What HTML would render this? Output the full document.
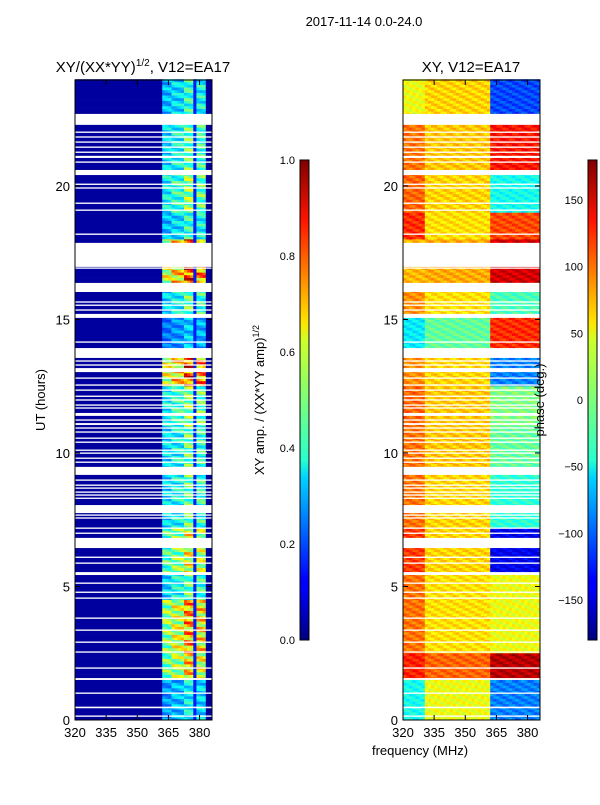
<!DOCTYPE html>
<html><head><meta charset="utf-8">
<style>
body{margin:0;background:#fff;font-family:"Liberation Sans",sans-serif;}
svg text{font-family:"Liberation Sans","DejaVu Sans",sans-serif;}
</style></head>
<body>
<svg id="fig" width="600" height="800" viewBox="0 0 600 800" xmlns="http://www.w3.org/2000/svg">
<defs>
<linearGradient id="jet" x1="0" y1="1" x2="0" y2="0">
<stop offset="0" stop-color="#00007f"/><stop offset="0.11" stop-color="#0000ff"/>
<stop offset="0.125" stop-color="#0000ff"/><stop offset="0.34" stop-color="#00d4ff"/>
<stop offset="0.375" stop-color="#29ffce"/><stop offset="0.5" stop-color="#7dff7a"/>
<stop offset="0.625" stop-color="#ceff29"/><stop offset="0.66" stop-color="#ffe600"/>
<stop offset="0.875" stop-color="#ff1300"/><stop offset="1" stop-color="#7f0000"/>
</linearGradient>
</defs>
<text x="364" y="26" font-size="13" text-anchor="middle">2017-11-14 0.0-24.0</text>
<text x="143" y="72" font-size="15" text-anchor="middle">XY/(XX*YY)<tspan font-size="10" dy="-6">1/2</tspan><tspan dy="6">, V12=EA17</tspan></text>
<text x="471" y="72" font-size="15" text-anchor="middle">XY, V12=EA17</text>
<g id="ampPlot"></g>
<g id="phPlot"></g>
<g id="axes"></g>
<rect x="300" y="160" width="9" height="480" fill="url(#jet)" stroke="#000" stroke-width="1"/>
<rect x="588" y="160" width="9" height="480" fill="url(#jet)" stroke="#000" stroke-width="1"/>
<text transform="translate(45,400) rotate(-90)" font-size="13" text-anchor="middle">UT (hours)</text>
<text transform="translate(264,400) rotate(-90)" font-size="13" text-anchor="middle">XY amp. / (XX*YY amp)<tspan font-size="9" dy="-5">1/2</tspan></text>
<text transform="translate(544,400) rotate(-90)" font-size="13" text-anchor="middle">phase (deg.)</text>
<text x="420" y="755" font-size="13" text-anchor="middle">frequency (MHz)</text>
</svg>
<script>
// data gaps (hours, no data)
const gaps=[[22.29,22.70],[21.99,22.04],[21.81,21.86],[21.62,21.67],[21.43,21.48],[21.24,21.29],[21.05,21.13],[20.87,20.92],[20.41,20.60],[20.04,20.09],[19.90,19.95],[19.33,19.38],[19.07,19.12],[18.17,18.22],[16.97,17.87],[16.90,16.95],[16.03,16.37],[15.63,15.68],[15.51,15.56],[15.33,15.38],[15.06,15.21],[14.13,14.18],[13.56,13.93],[13.42,13.47],[13.27,13.32],[13.03,13.18],[12.78,12.83],[12.52,12.57],[12.33,12.38],[12.10,12.15],[11.96,12.01],[11.77,11.82],[11.66,11.71],[11.39,11.50],[11.21,11.26],[11.05,11.12],[10.91,10.96],[10.76,10.81],[10.53,10.58],[10.38,10.43],[10.08,10.13],[9.97,10.02],[9.78,9.83],[9.63,9.68],[9.18,9.48],[8.96,9.01],[8.77,8.82],[8.66,8.71],[8.51,8.56],[8.40,8.45],[8.28,8.33],[7.75,8.05],[7.65,7.70],[7.54,7.59],[7.16,7.21],[6.97,7.02],[6.44,6.82],[6.07,6.12],[5.85,5.90],[5.43,5.54],[5.10,5.15],[4.76,4.81],[4.54,4.59],[3.79,3.84],[3.34,3.39],[2.89,2.94],[2.52,2.57],[1.92,1.97],[1.50,1.57],[0.98,1.03],[0.44,0.50],[0.12,0.17]];
// time segments: start, end hours
const segStart=[22.7,20.6,19.0,18.0,16.37,15.1,13.9,12.5,11.0,9.5,7.2,5.5,4.5,2.5,1.5,0];
const segEnd  =[24,22.7,20.6,19.0,18.0,16.37,15.1,13.9,12.5,11.0,9.5,7.2,5.5,4.5,2.5,1.5];
// amplitude level in 362-383 MHz band
const ampLevel=[0.45,0.5,0.55,0.45,0.85,0.5,0.35,0.85,0.55,0.5,0.5,0.65,0.5,0.75,0.7,0.4];
// phases (deg) for 320-330, 330-362, 362-386 MHz
const phLow=[40,95,100,120,70,85,-50,85,100,95,95,115,95,95,125,-40];
const phMid=[60,65,60,55,75,55,-10,60,65,65,60,60,55,55,100,40];
const phHigh=[-110,130,-40,110,150,-20,120,-90,0,-10,-30,-140,40,40,160,-90];
// sub-band edges (MHz) and gains
const bandLo=[362,366.8,372.5,378.3];
const bandHi=[366,371.8,377.6,382.8];
const bandGain=[0.8,0.9,1.1,1.0];

const NS='http://www.w3.org/2000/svg';
const xmin=320,xmax=386;
const y=(h)=>720-h*26.7;
function jet(v){v=Math.max(0,Math.min(1,v));
 const f=(x)=>Math.max(0,Math.min(1,1.5-Math.abs(4*v-x)));
 const r=f(3),g=f(2),b=f(1);
 return `rgb(${Math.round(r*255)},${Math.round(g*255)},${Math.round(b*255)})`;}
function mk(tag,attrs,parent){const e=document.createElementNS(NS,tag);for(const k in attrs)e.setAttribute(k,attrs[k]);parent.appendChild(e);return e;}
function draw(gid,x0,valFn){
 const g=document.getElementById(gid);
 const xs=(f)=>x0+(f-xmin)*(137/(xmax-xmin));
 const step=0.1;
 for(let i=0;i<segStart.length;i++){
  for(let h=segStart[i];h<segEnd[i]-1e-6;h+=step){
   const h2=Math.min(h+step,segEnd[i]);
   const k=Math.round(h*10);
   for(let f=xmin;f<xmax;f+=1.5){
    const r=mk('rect',{x:xs(f).toFixed(1),y:y(h2).toFixed(1),width:(137/(xmax-xmin)*1.5+0.4).toFixed(1),height:(y(h)-y(h2)+0.3).toFixed(1),fill:valFn(i,f+0.75,k)},g);
    
    
   }
  }
 }
 for(const gp of gaps){
  const r=mk('rect',{x:x0,y:y(gp[1]),width:137,height:y(gp[0])-y(gp[1]),fill:'#fff'},g);
  
  
 }
}
draw('ampPlot',75,(i,f,k)=>{
 let v=0.03;
 for(let b=0;b<4;b++) if(f>=bandLo[b]&&f<=bandHi[b]){
  v=ampLevel[i]*bandGain[b]*(0.85+0.2*Math.sin(k*1.7+b*2.1+f*0.3));}
 else if(f>bandHi[b]&&b<3&&f<bandLo[b+1]) v=0.15;
 return jet(v);});
draw('phPlot',403,(i,f,k)=>{
 let p=f<330?phLow[i]:(f<362?phMid[i]:phHigh[i]);
 p+=15*Math.sin(k*2.3+f*0.9);
 return jet((p+180)/360);});

const ax=document.getElementById('axes');
function axes(x0,name){
 const fr=mk('rect',{x:x0,y:80,width:137,height:640,fill:'none',stroke:'#000','stroke-width':1},ax);
 
 
 const xt=[320,335,350,365,380];
 for(const t of xt){
  const px=x0+(t-xmin)*(137/(xmax-xmin));
  mk('line',{x1:px,x2:px,y1:720,y2:715,stroke:'#000'},ax);
  mk('line',{x1:px,x2:px,y1:80,y2:85,stroke:'#000'},ax);
  const tx=mk('text',{x:px,y:737,'font-size':13,'text-anchor':'middle'},ax);tx.textContent=t;
  
  
 }
 for(const t of [0,5,10,15,20]){
  const py=y(t);
  mk('line',{x1:x0,x2:x0+5,y1:py,y2:py,stroke:'#000'},ax);
  mk('line',{x1:x0+132,x2:x0+137,y1:py,y2:py,stroke:'#000'},ax);
  const tx=mk('text',{x:x0-5,y:py+5,'font-size':13,'text-anchor':'end'},ax);tx.textContent=t;
  
  
 }
}
axes(75,'amp');axes(403,'phase');
function cbar(x0,ticks,lo,hi,fmt){
 for(const t of ticks){
  const py=640-(t-lo)/(hi-lo)*480;
  mk('line',{x1:x0,x2:x0+3,y1:py,y2:py,stroke:'#000'},ax);
  mk('line',{x1:x0+6,x2:x0+9,y1:py,y2:py,stroke:'#000'},ax);
  const tx=mk('text',{x:x0-5,y:py+4,'font-size':11,'text-anchor':'end'},ax);tx.textContent=fmt(t);
  
  
 }
}
cbar(300,[0,0.2,0.4,0.6,0.8,1.0],0,1,t=>t.toFixed(1));
cbar(588,[-150,-100,-50,0,50,100,150],-180,180,t=>t<0?'\u2212'+(-t):''+t);
</script>
</body></html>
